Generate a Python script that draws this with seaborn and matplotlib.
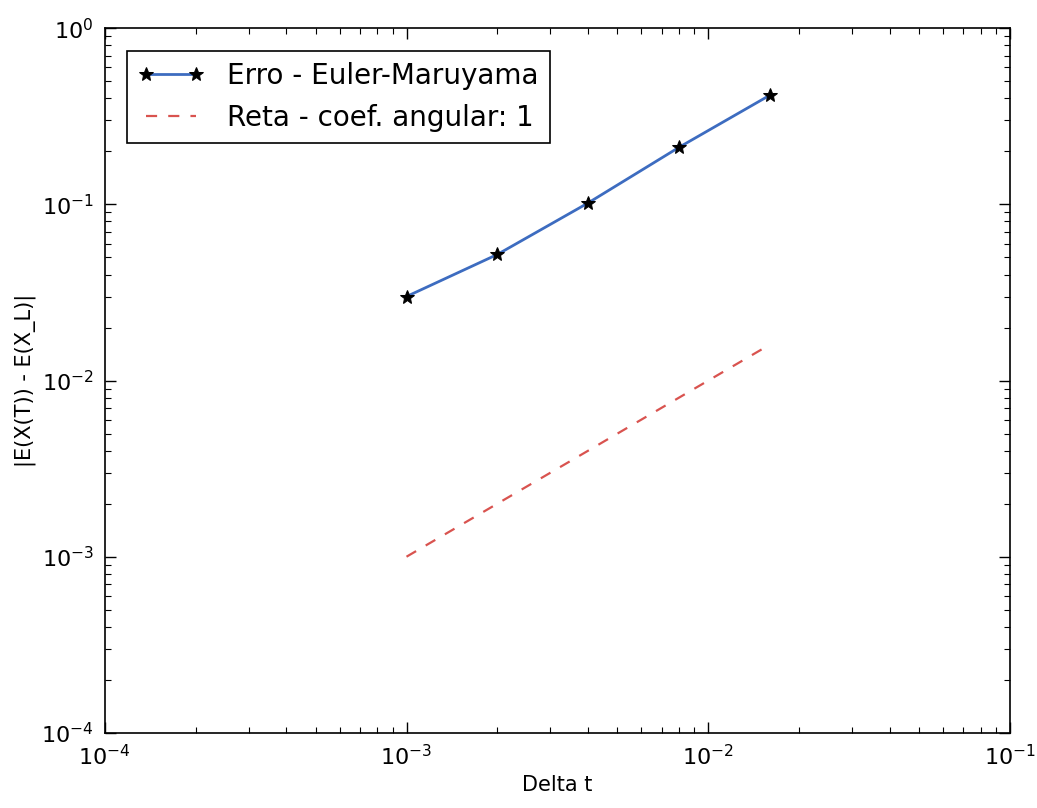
import numpy as np
import pandas as pd
import matplotlib
matplotlib.use("Agg")
import matplotlib.pyplot as plt
import seaborn as sns

# Step sizes and weak error of the Euler-Maruyama scheme
delta_t = [0.001, 0.002, 0.004, 0.008, 0.016]
erro = [0.030, 0.052, 0.102, 0.211, 0.417]
# Reference line with slope 1 in log-log scale
reta = [0.001, 0.002, 0.004, 0.008, 0.016]

sns.set_theme(style="ticks")
plt.rcParams["font.family"] = ["DejaVu Sans"]
plt.rcParams["xtick.direction"] = "in"
plt.rcParams["ytick.direction"] = "in"
plt.rcParams["xtick.top"] = True
plt.rcParams["ytick.right"] = True
plt.rcParams["axes.edgecolor"] = "black"
plt.rcParams["axes.linewidth"] = 1.2
plt.rcParams["text.color"] = "black"

fig = plt.figure(figsize=(10.37, 8.08), dpi=100)
ax = fig.add_axes([0.101, 0.093, 0.873, 0.872])

df_erro = pd.DataFrame({"dt": delta_t, "erro": erro})
df_reta = pd.DataFrame({"dt": delta_t, "reta": reta})

sns.lineplot(data=df_erro, x="dt", y="erro", ax=ax, color="#3d6cc0",
             linewidth=2, marker="*", markersize=10, markerfacecolor="black",
             markeredgecolor="black", label="Erro - Euler-Maruyama")
sns.lineplot(data=df_reta, x="dt", y="reta", ax=ax, color="#d9534f",
             linewidth=1.6, linestyle=(0, (5, 5)), label="Reta - coef. angular: 1")

ax.set_xscale("log")
ax.set_yscale("log")
ax.set_xlim(1e-4, 1e-1)
ax.set_ylim(1e-4, 1e0)

ax.tick_params(which="major", length=8, width=1, labelsize=16, colors="black", pad=8)
ax.tick_params(which="minor", length=4, width=0.8, colors="black")

ax.set_xlabel("Delta t", fontsize=15, color="black")
ax.set_ylabel("|E(X(T)) - E(X_L)|", fontsize=15, color="black")

leg = ax.legend(loc="upper left", fontsize=20, frameon=True, fancybox=False,
                edgecolor="black", borderaxespad=0.8, handlelength=2.4,
                numpoints=2, framealpha=1)
leg.get_frame().set_linewidth(1.2)
for t in leg.get_texts():
    t.set_color("black")

fig.savefig("out.png", dpi=100)
